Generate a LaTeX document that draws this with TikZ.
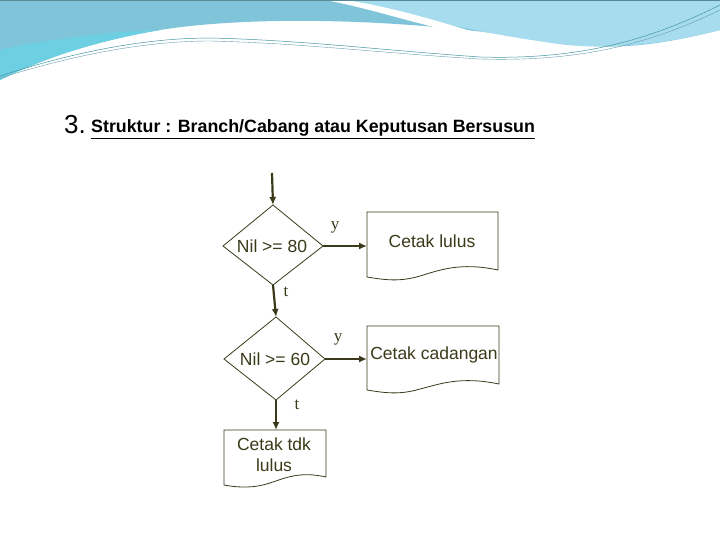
\documentclass[tikz,border=0pt]{standalone}
\usepackage{fontspec}
\setmainfont{Liberation Sans}
\usetikzlibrary{arrows.meta}
\definecolor{ln}{HTML}{3A3A1A}
\definecolor{bannerA}{HTML}{7FC4D8}
\definecolor{bannerB}{HTML}{5FD8E8}
\definecolor{bannerC}{HTML}{A6DCEE}
\tikzset{
  dec/.style={draw=ln,line width=0.8pt},
  arr/.style={draw=ln,line width=2.2pt,-{Latex[length=8pt,width=7pt]}},
  lbl/.style={font=\fontspec{Liberation Serif}\fontsize{17}{17}\selectfont,text=ln},
  txt/.style={font=\fontsize{17.5}{21}\selectfont,text=ln,align=center}
}
\begin{document}
\begin{tikzpicture}[x=1pt,y=-1pt]
\useasboundingbox (0,0) rectangle (720,540);
\fill[white] (0,0) rectangle (720,540);
% banner
\fill[bannerA] (0,0) -- (720,0) -- (720,30) .. controls (640,50) and (600,50) .. (540,40) .. controls (420,20) and (260,14) .. (160,30) .. controls (90,42) and (40,60) .. (0,80) -- cycle;
\fill[bannerB!60!bannerA] (0,40) -- (0,80) .. controls (40,60) and (90,42) .. (160,30) -- (120,32) .. controls (60,38) and (20,45) .. (0,50) -- cycle;
\fill[bannerC] (330,0) -- (720,0) -- (720,30) .. controls (650,48) and (590,50) .. (545,42) .. controls (460,30) and (400,12) .. (330,0) -- cycle;
\fill[white] (325,0) .. controls (380,10) and (430,30) .. (500,40) .. controls (460,28) and (400,8) .. (345,0) -- cycle;
\draw[bannerB!70!black,line width=0.5pt] (0,76) .. controls (80,50) and (150,38) .. (210,38) .. controls (300,40) and (380,50) .. (480,57) .. controls (580,60) and (650,40) .. (720,5);
\draw[bannerA!80!black,line width=0.4pt] (0,78) .. controls (80,53) and (150,41) .. (210,41) .. controls (300,43) and (380,53) .. (480,59) .. controls (580,62) and (650,44) .. (720,10);
\draw[bannerA!70!black,line width=0.8pt] (0,0) -- (720,0);
% title
\node[anchor=base west,font=\fontsize{26}{26}\selectfont,inner sep=0] (n3) at (64,134) {3.};
\node[anchor=base west,font=\bfseries\fontsize{17.8}{19}\selectfont,inner sep=0] (ttl) at (91,133) {\underline{Struktur : Branch/Cabang atau Keputusan Bersusun}};
% nodes
\coordinate (start) at (272,173);
\draw[dec] (273,205) -- (323,246) -- (273,285) -- (223,246) -- cycle;
\node[txt] (d1) at (272,246) {Nil >= 80};
\coordinate (d1t) at (273,205); \coordinate (d1b) at (273,285); \coordinate (d1r) at (323,246);
\draw[dec] (276,317) -- (325,359) -- (276,400) -- (224,359) -- cycle;
\node[txt] (d2) at (275,359) {Nil >= 60};
\coordinate (d2t) at (276,317); \coordinate (d2b) at (276,400); \coordinate (d2r) at (325,359);
% documents
\draw[dec] (367,212) -- (498,212) -- (498,270) .. controls (460,262) and (440,270) .. (420,276) .. controls (400,282) and (385,280) .. (367,277) -- cycle;
\node[txt] (c1) at (432,241) {Cetak lulus};
\coordinate (c1l) at (367,246);
\draw[dec] (367,326) -- (499,326) -- (499,384) .. controls (460,376) and (440,384) .. (420,389) .. controls (400,395) and (385,393) .. (367,390) -- cycle;
\node[txt] (c2) at (434,355) {Cetak cadangan};
\coordinate (c2l) at (367,359);
\draw[dec] (224,430) -- (326,430) -- (326,477) .. controls (300,471) and (285,478) .. (270,483) .. controls (255,488) and (240,488) .. (224,485) -- cycle;
\node[txt] (c3) at (274,455) {Cetak tdk\\lulus};
\coordinate (c3t) at (276,430);
% connectors
\draw[arr] (start) -- (d1t);
\draw[arr] (d1r) -- (c1l);
\draw[arr] (d1b) -- (d2t);
\draw[arr] (d2r) -- (c2l);
\draw[arr] (d2b) -- (c3t);
\node[lbl] (y1) at (335,227) {y};
\node[lbl] (t1) at (286,292) {t};
\node[lbl] (y2) at (338,339) {y};
\node[lbl] (t2) at (297,405) {t};
\end{tikzpicture}
\end{document}
